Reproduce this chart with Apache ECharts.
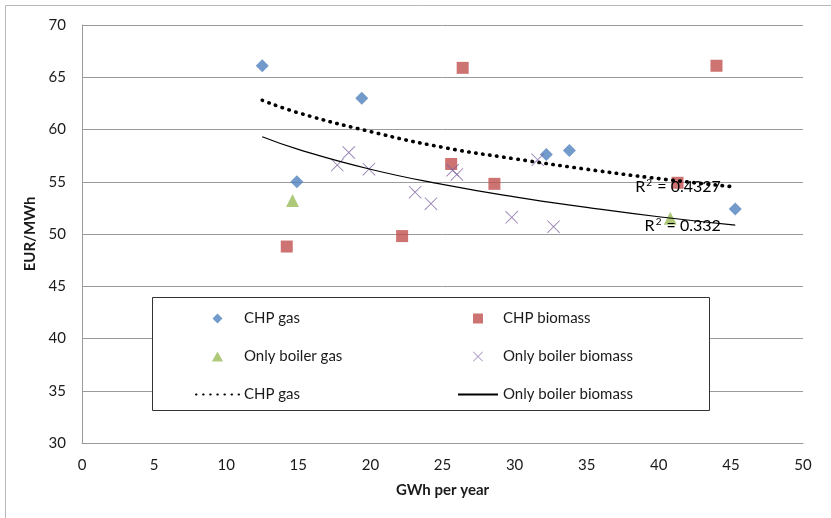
<!DOCTYPE html>
<html>
<head>
<meta charset="utf-8">
<script src="https://cdn.jsdelivr.net/npm/echarts@6/dist/echarts.min.js"></script>
<style>
  html, body { margin: 0; padding: 0; background: #fff; }
  #chart { width: 831px; height: 518px; }
</style>
</head>
<body>
<div id="chart"></div>
<script>
// Heat production volume (GWh per year) vs. price (EUR/MWh)
const chpGasX = [12.5, 19.4, 14.9, 32.2, 33.8, 45.3];
const chpGasY = [66.1, 63.0, 55.0, 57.6, 58.0, 52.4];

const chpBiomassX = [14.2, 22.2, 26.4, 25.6, 28.6, 41.3, 44.0];
const chpBiomassY = [48.8, 49.8, 65.9, 56.7, 54.8, 54.9, 66.1];

const boilerGasX = [14.6, 40.8];
const boilerGasY = [53.2, 51.5];

const boilerBiomassX = [17.7, 18.5, 19.9, 23.1, 24.2, 25.7, 26.0, 31.6, 29.8, 32.7];
const boilerBiomassY = [56.6, 57.8, 56.2, 54.0, 52.9, 56.1, 55.7, 57.1, 51.6, 50.7];

// Trend curves read at these production volumes
const trendX = [12.5, 15, 20, 25, 30, 35, 40, 45.3];
const chpGasTrendY = [62.8, 61.6, 59.8, 58.3, 57.2, 56.2, 55.3, 54.5];
const boilerBiomassTrendY = [59.3, 58.1, 56.2, 54.75, 53.55, 52.55, 51.65, 50.85];

const chpGasR2 = '0.4327';
const boilerBiomassR2 = '0.332';

const xTicks = { min: 0, max: 50, interval: 5 };
const yTicks = { min: 30, max: 70, interval: 5 };

const FONT = 'Lato, "Open Sans", sans-serif';
const pairs = (xs, ys) => xs.map((x, i) => [x, ys[i]]);

// Marker shapes as paths so they keep their aspect ratio in the legend too
const DIAMOND = 'path://M5,0 L10,5 L5,10 L0,5 Z';
const SQUARE = 'path://M0,0 L10,0 L10,10 L0,10 Z';
const TRIANGLE = 'path://M5,0 L10,9 L0,9 Z';
const CROSS = 'path://M0,1 L1,0 L10,9 L19,0 L20,1 L11,10 L20,19 L19,20 L10,11 L1,20 L0,19 L9,10 Z';

const chart = echarts.init(document.getElementById('chart'), null, { renderer: 'canvas' });

const legendText = { fontFamily: FONT, fontSize: 15, color: '#1a1a1a' };
const stripTrend = name => name.replace(' trend', '');
const hiddenSymbol = { opacity: 0 };

chart.setOption({
  animation: false,
  backgroundColor: '#fff',
  grid: { left: 82, right: 28, top: 25, bottom: 75 },
  xAxis: {
    type: 'value',
    min: xTicks.min, max: xTicks.max, interval: xTicks.interval,
    name: 'GWh per year',
    nameLocation: 'middle',
    nameGap: 40,
    nameTextStyle: { fontFamily: FONT, fontSize: 15, fontWeight: 'bold', color: '#1a1a1a' },
    axisLine: { lineStyle: { color: '#9a9a9a', width: 1 } },
    axisTick: { show: false },
    splitLine: { show: false },
    axisLabel: { fontFamily: FONT, fontSize: 15, color: '#1a1a1a', margin: 15 }
  },
  yAxis: {
    type: 'value',
    min: yTicks.min, max: yTicks.max, interval: yTicks.interval,
    name: 'EUR/MWh',
    nameLocation: 'middle',
    nameGap: 42,
    nameTextStyle: { fontFamily: FONT, fontSize: 15, fontWeight: 'bold', color: '#1a1a1a' },
    axisLine: { show: true, lineStyle: { color: '#9a9a9a', width: 1 } },
    axisTick: { show: false },
    splitLine: { show: true, lineStyle: { color: '#9a9a9a', width: 1 } },
    axisLabel: { fontFamily: FONT, fontSize: 15, color: '#1a1a1a', margin: 16 }
  },
  legend: [
    {
      orient: 'vertical', left: 195, top: 311, itemGap: 23, padding: 0,
      itemWidth: 43, itemHeight: 10,
      data: ['CHP gas', 'Only boiler gas', { name: 'CHP gas trend', itemStyle: hiddenSymbol }],
      formatter: stripTrend, textStyle: legendText, selectedMode: false
    },
    {
      orient: 'vertical', left: 457, top: 311, itemGap: 23, padding: 0,
      itemWidth: 40, itemHeight: 10,
      data: ['CHP biomass', 'Only boiler biomass', { name: 'Only boiler biomass trend', itemStyle: hiddenSymbol }],
      formatter: stripTrend, textStyle: legendText, selectedMode: false
    }
  ],
  graphic: [
    {
      type: 'rect', z: 3, silent: true,
      shape: { x: 5.5, y: 5.5, width: 900, height: 600 },
      style: { fill: 'none', stroke: '#b8b8b8', lineWidth: 1 }
    },
    {
      type: 'rect', z: 3, silent: true,
      shape: { x: 152.5, y: 297.5, width: 557, height: 113 },
      style: { fill: '#fff', stroke: '#333', lineWidth: 1 }
    }
  ],
  series: [
    {
      name: 'CHP gas', type: 'scatter', symbol: DIAMOND, symbolSize: 13,
      itemStyle: { color: '#4F81BD' },
      data: pairs(chpGasX, chpGasY)
    },
    {
      name: 'CHP biomass', type: 'scatter', symbol: SQUARE, symbolSize: 12,
      itemStyle: { color: '#C0504D' },
      data: pairs(chpBiomassX, chpBiomassY)
    },
    {
      name: 'Only boiler gas', type: 'scatter', symbol: TRIANGLE, symbolSize: 13,
      itemStyle: { color: '#9BBB59' },
      data: pairs(boilerGasX, boilerGasY)
    },
    {
      name: 'Only boiler biomass', type: 'scatter', symbol: CROSS, symbolSize: 13,
      itemStyle: { color: '#8064A2' },
      data: pairs(boilerBiomassX, boilerBiomassY)
    },
    {
      name: 'CHP gas trend', type: 'line', smooth: true, symbol: 'none', z: 4,
      itemStyle: { color: '#000' },
      lineStyle: { color: '#000', width: 3.6, type: [0.5, 6.6], cap: 'round' },
      data: pairs(trendX, chpGasTrendY)
    },
    {
      name: 'Only boiler biomass trend', type: 'line', smooth: true, symbol: 'none', z: 4,
      itemStyle: { color: '#000' },
      lineStyle: { color: '#000', width: 1.2 },
      data: pairs(trendX, boilerBiomassTrendY)
    }
  ]
});

// R² annotations placed next to the right end of each trend curve
function r2Label(value, dataPos) {
  const p = chart.convertToPixel({ gridIndex: 0 }, dataPos);
  return {
    type: 'text', z: 5, silent: true,
    x: p[0], y: p[1],
    style: {
      text: '{b|R}{s|2}{b| = ' + value + '}',
      align: 'right', verticalAlign: 'middle',
      rich: {
        b: { fontFamily: FONT, fontSize: 16, color: '#1a1a1a' },
        s: { fontFamily: FONT, fontSize: 10, color: '#1a1a1a', verticalAlign: 'top', padding: [0, 1, 8, 1] }
      }
    }
  };
}
chart.setOption({
  graphic: [
    {}, {},
    r2Label(chpGasR2, [44.3, 54.5]),
    r2Label(boilerBiomassR2, [44.3, 50.8])
  ]
});
</script>
</body>
</html>
